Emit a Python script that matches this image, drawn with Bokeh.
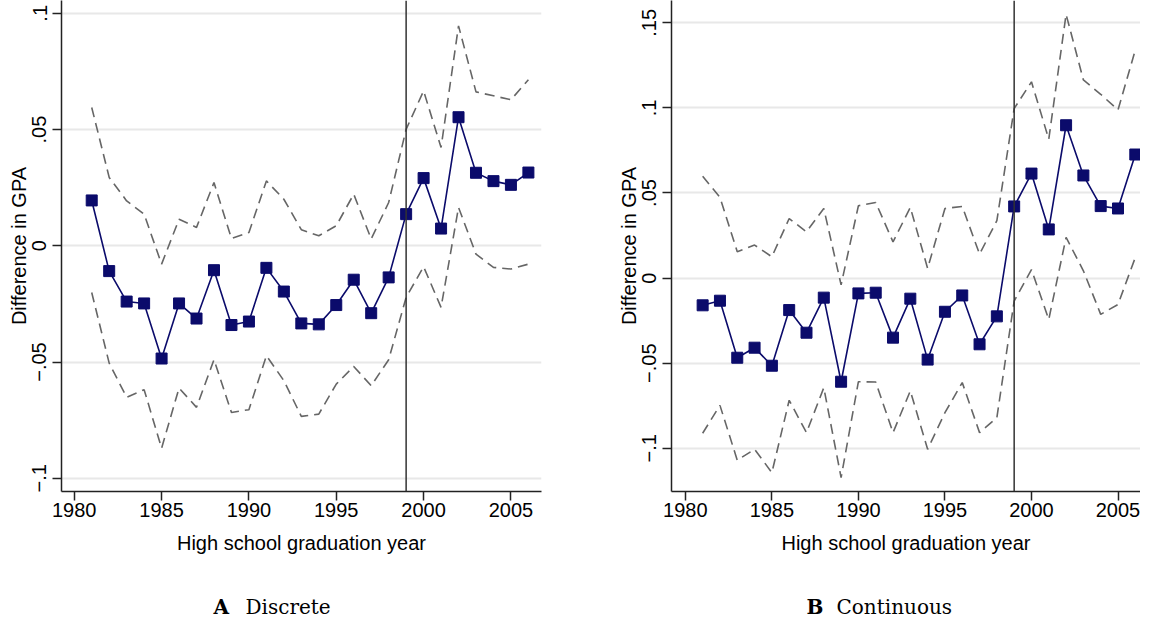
from bokeh.plotting import figure
from bokeh.models import ColumnDataSource, FixedTicker, Span, Label, Range1d
from bokeh.layouts import row, column
from bokeh.embed import file_html
from bokeh.resources import INLINE

# graduation cohorts
years = list(range(1981, 2007))

# A: discrete measure -- estimate and 95% band
disc_est = [0.0195, -0.0109, -0.0240, -0.0248, -0.0485, -0.0248, -0.0313, -0.0105, -0.0341,
            -0.0326, -0.0095, -0.0197, -0.0334, -0.0338, -0.0255, -0.0146, -0.0290, -0.0136,
            0.0136, 0.0291, 0.0074, 0.0553, 0.0314, 0.0278, 0.0262, 0.0315]
disc_hi = [0.0595, 0.0294, 0.0193, 0.0136, -0.0079, 0.0114, 0.0079, 0.0272, 0.0031,
           0.0057, 0.0279, 0.0200, 0.0069, 0.0043, 0.0086, 0.0222, 0.0029, 0.0186,
           0.0501, 0.0666, 0.0423, 0.0946, 0.0662, 0.0645, 0.0628, 0.0714]
disc_lo = [-0.0201, -0.0505, -0.0652, -0.0619, -0.0871, -0.0612, -0.0695, -0.0490, -0.0717,
           -0.0705, -0.0473, -0.0580, -0.0734, -0.0724, -0.0595, -0.0519, -0.0602, -0.0490,
           -0.0222, -0.0090, -0.0265, 0.0165, -0.0036, -0.0093, -0.0100, -0.0079]

# B: continuous measure
cont_est = [-0.0160, -0.0133, -0.0468, -0.0409, -0.0515, -0.0188, -0.0321, -0.0115, -0.0609,
            -0.0090, -0.0086, -0.0350, -0.0121, -0.0479, -0.0198, -0.0102, -0.0389, -0.0225,
            0.0421, 0.0614, 0.0286, 0.0898, 0.0603, 0.0423, 0.0409, 0.0726]
cont_hi = [0.0599, 0.0474, 0.0155, 0.0194, 0.0125, 0.0350, 0.0272, 0.0409, -0.0040,
           0.0425, 0.0444, 0.0213, 0.0415, 0.0057, 0.0409, 0.0421, 0.0141, 0.0337,
           0.0996, 0.1153, 0.0816, 0.1550, 0.1164, 0.1080, 0.0988, 0.1340]
cont_lo = [-0.0912, -0.0748, -0.1070, -0.1006, -0.1143, -0.0718, -0.0908, -0.0644, -0.1172,
           -0.0609, -0.0611, -0.0908, -0.0663, -0.1006, -0.0791, -0.0614, -0.0908, -0.0820,
           -0.0135, 0.0050, -0.0243, 0.0239, 0.0043, -0.0213, -0.0155, 0.0121]

x_ticks = [1980, 1985, 1990, 1995, 2000, 2005]
disc_y_ticks = [-0.1, -0.05, 0.0, 0.05, 0.1]
disc_y_labels = ["\u2212.1", "\u2212.05", "0", ".05", ".1"]
cont_y_ticks = [-0.1, -0.05, 0.0, 0.05, 0.1, 0.15]
cont_y_labels = ["\u2212.1", "\u2212.05", "0", ".05", ".1", ".15"]
cutoff_year = 1999

NAVY = "#0b0b6b"
SANS = "Liberation Sans"


def make_panel(est, hi, lo, yticks, ylabels, xr, yr, width, b_left, b_right):
    p = figure(width=width, height=566, output_backend="svg", toolbar_location=None,
               x_range=Range1d(*xr), y_range=Range1d(*yr),
               min_border_left=b_left, min_border_right=b_right,
               min_border_top=0, min_border_bottom=75)
    p.outline_line_color = None
    p.background_fill_color = "white"

    src = ColumnDataSource(dict(year=years, est=est, hi=hi, lo=lo))
    p.line("year", "hi", source=src, line_color="#666666", line_width=1.6, line_dash="10 6")
    p.line("year", "lo", source=src, line_color="#666666", line_width=1.6, line_dash="10 6")
    p.line("year", "est", source=src, line_color=NAVY, line_width=1.6)
    p.scatter("year", "est", source=src, marker="square", size=11,
              fill_color=NAVY, line_color=NAVY)

    p.add_layout(Span(location=cutoff_year, dimension="height",
                      line_color="#333333", line_width=1.5))

    p.xgrid.visible = False
    p.ygrid.ticker = FixedTicker(ticks=yticks)
    p.ygrid.grid_line_color = "#e8e8e8"
    p.ygrid.grid_line_width = 2

    p.xaxis.ticker = FixedTicker(ticks=x_ticks)
    p.yaxis.ticker = FixedTicker(ticks=yticks)
    p.yaxis.major_label_overrides = dict(zip(yticks, ylabels))
    p.yaxis.major_label_orientation = "vertical"
    p.xaxis.axis_label = "High school graduation year"
    p.yaxis.axis_label = "Difference in GPA"

    for ax in (p.xaxis, p.yaxis):
        ax.axis_line_color = "#222222"
        ax.axis_line_width = 1.5
        ax.major_tick_line_color = "#222222"
        ax.major_tick_line_width = 1.5
        ax.major_tick_out = 9
        ax.major_tick_in = 0
        ax.minor_tick_line_color = None
        ax.major_label_text_font = SANS
        ax.major_label_text_font_size = "20px"
        ax.major_label_text_color = "black"
        ax.axis_label_text_font = SANS
        ax.axis_label_text_font_size = "20px"
        ax.axis_label_text_font_style = "normal"
        ax.axis_label_text_color = "black"
    p.xaxis.major_label_standoff = 2
    p.xaxis.axis_label_standoff = 12
    p.yaxis.major_label_standoff = 6
    p.yaxis.axis_label_standoff = 0
    return p


pA = make_panel(disc_est, disc_hi, disc_lo, disc_y_ticks, disc_y_labels,
                (1979.27, 2006.75), (-0.1057, 0.1055), 600, 61, 59)
pB = make_panel(cont_est, cont_hi, cont_lo, cont_y_ticks, cont_y_labels,
                (1979.2, 2006.3), (-0.1254, 0.1631), 540, 71, 0)

# strip with the panel captions
cap = figure(width=1140, height=52, output_backend="svg", toolbar_location=None,
             x_range=Range1d(0, 1), y_range=Range1d(0, 1),
             min_border_left=0, min_border_right=0, min_border_top=0, min_border_bottom=0)
cap.axis.visible = False
cap.grid.visible = False
cap.outline_line_color = None
for txt, x, style in [("A", 213, "bold"), ("Discrete", 245, "normal"),
                      ("B", 806, "bold"), ("Continuous", 836, "normal")]:
    cap.add_layout(Label(x=x, y=12, x_units="screen", y_units="screen", text=txt,
                         text_font="DejaVu Serif", text_font_style=style,
                         text_font_size="20px", text_color="black",
                         text_baseline="alphabetic"))

p = column(row(pA, pB), cap)
open("out.html", "w").write(file_html(p, INLINE))
